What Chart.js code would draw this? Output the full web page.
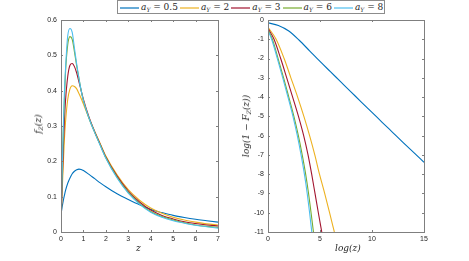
<!DOCTYPE html>
<html>
<head>
<meta charset="utf-8">
<script src="https://cdn.jsdelivr.net/npm/chart.js@4.4.1/dist/chart.umd.min.js"></script>
<style>
  body { margin: 0; background: #fff; }
  #wrap { position: relative; width: 469px; height: 261px; overflow: hidden; }
  #left { position: absolute; left: 0; top: 0; }
  #right { position: absolute; left: 230px; top: 0; }
  #legend {
    position: absolute; left: 117px; top: 0; width: 268px; height: 14px;
    box-sizing: border-box; border: 1px solid #8c8c8c; background: #fff;
    display: flex; align-items: center; padding-left: 2px;
    font-family: "DejaVu Serif", "Liberation Serif", serif; font-size: 9px; color: #262626;
  }
  #legend svg { flex: none; margin: 1px 2px 0 0; }
  #legend .tx { flex: none; margin-right: 2px; white-space: nowrap; }
  .sub { font-size: 6px; position: relative; top: 2px; }
  .ttl { position: absolute; font-family: "DejaVu Serif", "Liberation Serif", serif; font-style: italic;
         font-size: 9px; color: #262626; white-space: nowrap; }
</style>
</head>
<body>
<div id="wrap">
  <canvas id="left" width="230" height="261"></canvas>
  <canvas id="right" width="239" height="261"></canvas>
  <div id="legend"></div>
  <div class="ttl" style="left:136px; top:243px;">z</div>
  <div class="ttl" style="left:38px; top:124px; transform: translate(-50%,-50%) rotate(-90deg);">f<span class="sub">Z</span>(z)</div>
  <div class="ttl" style="left:335px; top:243px;">log(z)</div>
  <div class="ttl" style="left:246px; top:126px; transform: translate(-50%,-50%) rotate(-90deg);">log(1 <span style="font-style:normal">&minus;</span> F<span class="sub">Z</span>(z))</div>
</div>
<script>
// series
const aY = ['0.5', '2', '3', '6', '8'];
const colors = ['#0072BD', '#EDB120', '#A2142F', '#77AC30', '#4DBEEE'];

// left panel: density f_Z(z)
const zGrid = [0, 0.05, 0.1, 0.15, 0.2, 0.3, 0.4, 0.5, 0.6, 0.7, 0.8, 0.9, 1, 1.25, 1.5, 1.75, 2, 2.5, 3, 3.5, 4, 4.5, 5, 5.5, 6, 6.5, 7];
const pdf05 = [0.05, 0.07, 0.088, 0.103, 0.117, 0.138, 0.153, 0.165, 0.172, 0.176, 0.178, 0.177, 0.174, 0.163, 0.151, 0.139, 0.128, 0.108, 0.092, 0.077, 0.064, 0.055, 0.047, 0.041, 0.036, 0.032, 0.028];
const pdf2  = [0.03, 0.11, 0.19, 0.26, 0.31, 0.375, 0.405, 0.414, 0.412, 0.405, 0.392, 0.378, 0.362, 0.322, 0.285, 0.25, 0.215, 0.162, 0.12, 0.09, 0.068, 0.053, 0.042, 0.034, 0.028, 0.023, 0.02];
const pdf3  = [0.03, 0.13, 0.23, 0.31, 0.37, 0.44, 0.472, 0.477, 0.468, 0.45, 0.425, 0.4, 0.375, 0.325, 0.284, 0.248, 0.212, 0.158, 0.116, 0.085, 0.062, 0.047, 0.037, 0.029, 0.024, 0.02, 0.017];
const pdf6  = [0.03, 0.16, 0.28, 0.37, 0.45, 0.53, 0.553, 0.545, 0.51, 0.47, 0.435, 0.4, 0.372, 0.322, 0.282, 0.246, 0.21, 0.155, 0.112, 0.081, 0.058, 0.044, 0.034, 0.026, 0.02, 0.016, 0.013];
const pdf8  = [0.03, 0.17, 0.29, 0.39, 0.46, 0.555, 0.576, 0.565, 0.52, 0.475, 0.435, 0.4, 0.372, 0.322, 0.282, 0.245, 0.209, 0.153, 0.11, 0.079, 0.056, 0.042, 0.032, 0.025, 0.019, 0.015, 0.011];
const pdfs = [pdf05, pdf2, pdf3, pdf6, pdf8];

// right panel: log(1 - F_Z(z)) against log(z)
const logz05 = [0, 1, 2, 3, 4, 5, 6, 7, 8, 9, 10, 11, 12, 13, 14, 15];
const surv05 = [-0.15, -0.28, -0.57, -1.05, -1.6, -2.15, -2.68, -3.21, -3.74, -4.27, -4.79, -5.32, -5.84, -6.36, -6.87, -7.38];
const logz2 = [0, 0.78, 1.55, 2.2, 2.85, 3.45, 4.0, 4.5, 4.95, 5.45, 5.92, 6.38];
const surv2 = [-0.38, -1, -2, -3, -4, -5, -6, -7, -8, -9, -10, -11];
const logz3 = [0, 0.58, 1.22, 1.8, 2.37, 2.93, 3.43, 3.85, 4.2, 4.52, 4.84, 5.17];
const surv3 = [-0.43, -1, -2, -3, -4, -5, -6, -7, -8, -9, -10, -11];
const logz6 = [0, 0.42, 0.97, 1.5, 2.0, 2.49, 2.92, 3.29, 3.62, 3.9, 4.14, 4.37];
const surv6 = [-0.5, -1, -2, -3, -4, -5, -6, -7, -8, -9, -10, -11];
const logz8 = [0, 0.35, 0.9, 1.42, 1.92, 2.4, 2.82, 3.18, 3.5, 3.77, 4.0, 4.21];
const surv8 = [-0.55, -1, -2, -3, -4, -5, -6, -7, -8, -9, -10, -11];
const logzs = [logz05, logz2, logz3, logz6, logz8];
const survs = [surv05, surv2, surv3, surv6, surv8];

// legend (html, shared by both panels)
const legend = document.getElementById('legend');
aY.forEach((v, i) => {
    legend.insertAdjacentHTML('beforeend',
        '<svg width="19" height="4"><line x1="0" y1="2" x2="19" y2="2" stroke="' + colors[i] + '" stroke-width="1.2"/></svg>' +
        '<span class="tx"><i>a</i><span class="sub"><i>Y</i></span> = ' + v + '</span>');
});

// axes box with inward tick marks, matlab style
const boxPlugin = {
    id: 'box',
    afterDraw(chart) {
        const { ctx, chartArea: a, scales } = chart;
        ctx.save();
        ctx.strokeStyle = '#7f7f7f';
        ctx.lineWidth = 1;
        ctx.beginPath();
        scales.x.ticks.forEach(t => {
            const px = Math.round(scales.x.getPixelForValue(t.value)) + 0.5;
            ctx.moveTo(px, a.bottom); ctx.lineTo(px, a.bottom - 2);
            ctx.moveTo(px, a.top); ctx.lineTo(px, a.top + 2);
        });
        scales.y.ticks.forEach(t => {
            const py = Math.round(scales.y.getPixelForValue(t.value)) + 0.5;
            ctx.moveTo(a.left, py); ctx.lineTo(a.left + 2, py);
            ctx.moveTo(a.right, py); ctx.lineTo(a.right - 2, py);
        });
        ctx.stroke();
        ctx.strokeRect(Math.round(a.left) + 0.5, Math.round(a.top) + 0.5,
            Math.round(a.right - a.left), Math.round(a.bottom - a.top));
        ctx.restore();
    }
};

const tickFont = { family: '"Liberation Sans", Arial, sans-serif', size: 7 };

function makeDatasets(xs, ys) {
    return aY.map((v, i) => ({
        label: 'a_Y = ' + v,
        data: (Array.isArray(xs[0]) ? xs[i] : xs).map((x, k) => ({ x: x, y: ys[i][k] })),
        borderColor: colors[i],
        borderWidth: 1.1,
        pointRadius: 0,
        cubicInterpolationMode: 'monotone',
        fill: false,
        order: aY.length - i
    }));
}

function makeOptions(xmin, xmax, xstep, ymin, ymax, ystep, yWidth, padRight, yFmt) {
    return {
        responsive: false,
        animation: false,
        layout: { padding: { top: 20, right: padRight, left: 0, bottom: 0 } },
        plugins: { legend: { display: false }, tooltip: { enabled: false } },
        scales: {
            x: {
                type: 'linear', min: xmin, max: xmax,
                ticks: { stepSize: xstep, color: '#262626', font: tickFont, padding: 3, maxRotation: 0 },
                grid: { display: false, drawTicks: false },
                border: { display: false },
                afterFit(s) { s.height = 29; }
            },
            y: {
                min: ymin, max: ymax,
                ticks: { stepSize: ystep, color: '#262626', font: tickFont, padding: 4, callback: yFmt },
                grid: { display: false, drawTicks: false },
                border: { display: false },
                afterFit(s) { s.width = yWidth; }
            }
        }
    };
}

new Chart(document.getElementById('left'), {
    type: 'line',
    data: { datasets: makeDatasets(zGrid, pdfs) },
    options: makeOptions(0, 7, 1, 0, 0.6, 0.1, 61, 12, v => +v.toFixed(1)),
    plugins: [boxPlugin]
});

new Chart(document.getElementById('right'), {
    type: 'line',
    data: { datasets: makeDatasets(logzs, survs) },
    options: makeOptions(0, 15, 5, -11, 0, 1, 38, 45, v => v),
    plugins: [boxPlugin]
});
</script>
</body>
</html>
